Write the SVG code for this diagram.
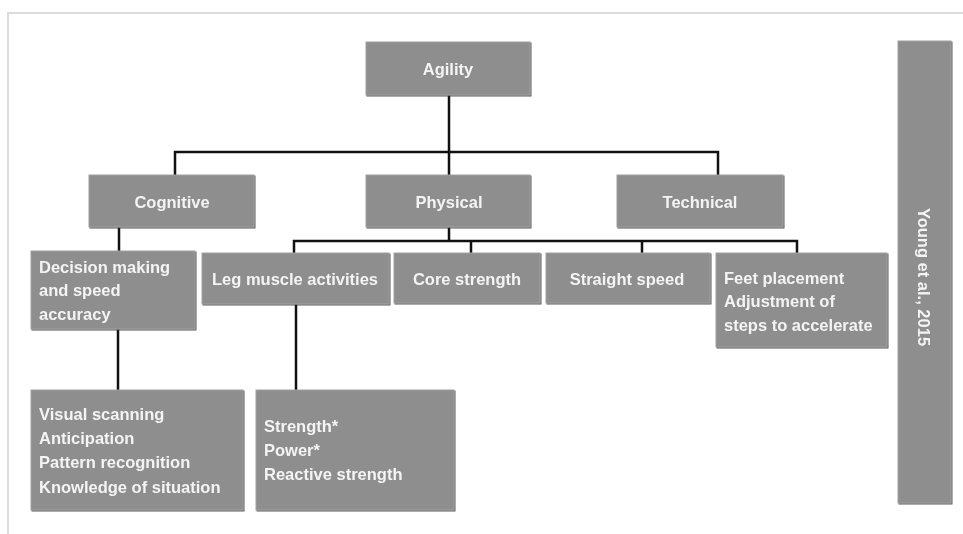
<svg xmlns="http://www.w3.org/2000/svg" width="963" height="534" viewBox="0 0 963 534">
<defs>
<style>
.box{fill:#8e8e8e;stroke:#a0a0a0;stroke-width:1}
.t{font-family:"Liberation Sans",Arial,sans-serif;font-size:16.5px;font-weight:bold;fill:#f4f4f4}
.c{text-anchor:middle}
.ln{fill:none;stroke:#111;stroke-width:2.5}
</style>
<filter id="sh" x="-10%" y="-30%" width="120%" height="160%">
<feDropShadow dx="1" dy="1" stdDeviation="0.6" flood-color="#333" flood-opacity="0.8"/>
</filter>
</defs>
<rect width="963" height="534" fill="#ffffff"/>
<path d="M8 534 V13 H963" fill="none" stroke="#dcdcdc" stroke-width="2"/>
<g id="connectors">
<path class="ln" d="M449 95 V152 M175 175 V152 H718 V175 M449 152 V175"/>
<path class="ln" d="M119 227 V251 M118 329 V391"/>
<path class="ln" d="M449 227 V241 M294 253 V241 H797 V253 M471 241 V253 M642 241 V253"/>
<path class="ln" d="M296 304 V390"/>
</g>
<g filter="url(#sh)">
<g id="agility"><rect class="box" x="366" y="42" width="164" height="53"/><text class="t c" x="448" y="75">Agility</text></g>
<g id="cognitive"><rect class="box" x="89" y="175" width="165" height="52"/><text class="t c" x="172" y="208">Cognitive</text></g>
<g id="physical"><rect class="box" x="366" y="175" width="164" height="52"/><text class="t c" x="449" y="208">Physical</text></g>
<g id="technical"><rect class="box" x="617" y="175" width="166" height="52"/><text class="t c" x="700" y="208">Technical</text></g>
<g id="decision"><rect class="box" x="31" y="251" width="164" height="78"/><text class="t" x="39" y="273">Decision making</text><text class="t" x="39" y="296">and speed</text><text class="t" x="39" y="320">accuracy</text></g>
<g id="leg"><rect class="box" x="202" y="253" width="187" height="51"/><text class="t c" x="295" y="285">Leg muscle activities</text></g>
<g id="core"><rect class="box" x="394" y="253" width="146" height="50"/><text class="t c" x="467" y="285">Core strength</text></g>
<g id="straight"><rect class="box" x="546" y="253" width="164" height="50"/><text class="t c" x="627" y="285">Straight speed</text></g>
<g id="feet"><rect class="box" x="716" y="253" width="171" height="94"/><text class="t" x="724" y="284">Feet placement</text><text class="t" x="724" y="307">Adjustment of</text><text class="t" x="724" y="331">steps to accelerate</text></g>
<g id="visual"><rect class="box" x="31" y="390" width="212" height="120"/><text class="t" x="39" y="420">Visual scanning</text><text class="t" x="39" y="444">Anticipation</text><text class="t" x="39" y="468">Pattern recognition</text><text class="t" x="39" y="493">Knowledge of situation</text></g>
<g id="strength"><rect class="box" x="256" y="390" width="198" height="120"/><text class="t" x="264" y="432">Strength*</text><text class="t" x="264" y="456">Power*</text><text class="t" x="264" y="480">Reactive strength</text></g>
<g id="young"><rect class="box" x="898" y="41" width="53" height="462"/><text class="t c" transform="translate(918 277) rotate(90)">Young et al., 2015</text></g>
</g>
</svg>
